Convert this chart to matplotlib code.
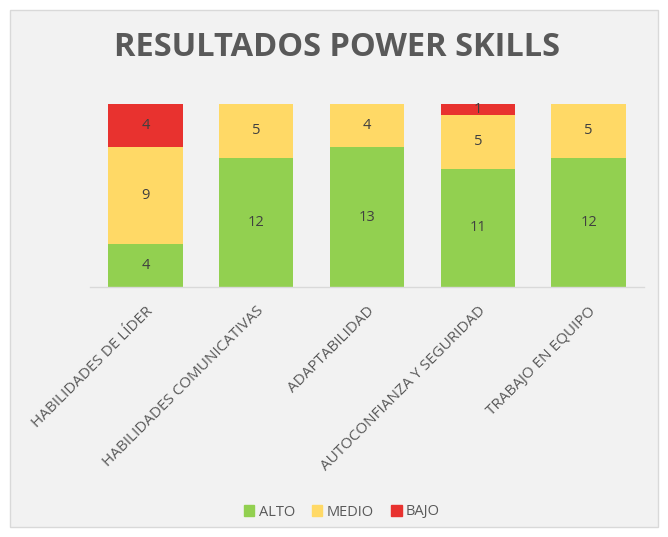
import matplotlib
matplotlib.use("Agg")
import matplotlib.pyplot as plt
import matplotlib.patches as mpatches
import numpy as np

categorias = ["HABILIDADES DE LÍDER", "HABILIDADES COMUNICATIVAS", "ADAPTABILIDAD",
              "AUTOCONFIANZA Y SEGURIDAD", "TRABAJO EN EQUIPO"]
alto = [4, 12, 13, 11, 12]
medio = [9, 5, 4, 5, 5]
bajo = [4, 0, 0, 1, 0]

series = [("ALTO", alto, "#92D050"), ("MEDIO", medio, "#FFD966"), ("BAJO", bajo, "#E8322F")]

plt.rcParams["font.family"] = ["Open Sans", "DejaVu Sans"]

fig = plt.figure(figsize=(6.68, 5.37), dpi=100)
fig.patch.set_facecolor("white")
# fondo gris del área del gráfico
fondo = mpatches.Rectangle((10 / 668, 10 / 537), 648 / 668, 517 / 537,
                           transform=fig.transFigure, facecolor="#F2F2F2",
                           edgecolor="#D9D9D9", linewidth=1, zorder=-10)
fig.patches.append(fondo)

ax = fig.add_axes([90 / 668, 1 - 287 / 537, 554 / 668, 183 / 537])
ax.set_facecolor("none")
ax.set_zorder(5)

x = np.arange(len(categorias))
bottom = np.zeros(len(categorias))
for nombre, vals, color in series:
    vals = np.array(vals, dtype=float)
    ax.bar(x, vals, bottom=bottom, width=0.67, color=color, label=nombre, zorder=2)
    for xi, b, v in zip(x, bottom, vals):
        if v > 0:
            ax.text(xi, b + v / 2, f"{int(v)}", ha="center", va="center",
                    fontsize=10.5, color="#404040", zorder=3)
    bottom += vals

ax.set_xlim(-0.5, len(categorias) - 0.5)
ax.set_ylim(0, bottom.max())
ax.set_yticks([])
for s in ["top", "right", "left"]:
    ax.spines[s].set_visible(False)
ax.spines["bottom"].set_color("#D9D9D9")
ax.spines["bottom"].set_linewidth(1)
ax.set_xticks(x)
ax.set_xticklabels(categorias, rotation=45, ha="right", rotation_mode="anchor",
                   fontsize=11, color="#595959")
ax.tick_params(axis="x", length=0, pad=12)

fig.text(337 / 668, 1 - 48 / 537, "RESULTADOS POWER SKILLS", ha="center", va="center",
         fontsize=23.5, fontweight="bold", color="#595959")

handles = [mpatches.Patch(color=c, label=n) for n, _, c in series]
fig.legend(handles=handles, loc="center", bbox_to_anchor=(342 / 668, 1 - 512 / 537),
           ncol=3, frameon=False, fontsize=10.5, handlelength=0.7, handleheight=0.7,
           handletextpad=0.3, columnspacing=1.2, labelcolor="#595959")

fig.savefig("out.png", dpi=100)
